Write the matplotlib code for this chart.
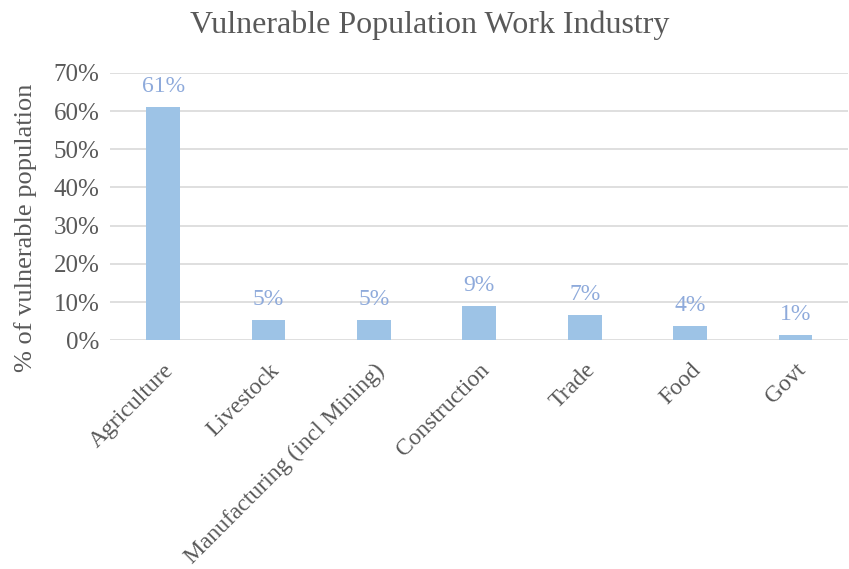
import matplotlib.pyplot as plt
from matplotlib.ticker import PercentFormatter

categories = ['Agriculture', 'Livestock', 'Manufacturing (incl Mining)',
              'Construction', 'Trade', 'Food', 'Govt']
shares = [0.61, 0.053, 0.053, 0.089, 0.066, 0.037, 0.013]
labels = ['61%', '5%', '5%', '9%', '7%', '4%', '1%']

plt.rcParams['font.family'] = ['Liberation Serif', 'DejaVu Serif']
grey = '#595959'

fig = plt.figure(figsize=(8.49, 5.69), dpi=100)
ax = fig.add_axes([0.130, 0.402, 0.869, 0.470])

x = range(len(categories))
bars = ax.bar(x, shares, width=0.32, color='#9DC3E6', zorder=3)
for b, lab in zip(bars, labels):
    ax.text(b.get_x() + b.get_width() / 2, b.get_height() + 0.027, lab,
            ha='center', va='bottom', fontsize=17, color='#8EAADB')

ax.set_ylim(0, 0.7)
ax.set_xlim(-0.5, len(categories) - 0.5)
ax.set_yticks([i / 10 for i in range(8)])
ax.yaxis.set_major_formatter(PercentFormatter(1.0, decimals=0))
ax.grid(axis='y', color='#D9D9D9', linewidth=1.2, zorder=0)
for s in ax.spines.values():
    s.set_visible(False)
ax.tick_params(length=0, labelsize=18, colors=grey)
ax.tick_params(axis='y', pad=8)
ax.tick_params(axis='x', pad=14)
ax.set_xticks(list(x))
ax.set_xticklabels(categories, rotation=45, ha='right', rotation_mode='anchor',
                   fontsize=17)
ax.set_ylabel('% of vulnerable population', fontsize=19, color=grey)
ax.yaxis.set_label_coords(-0.100, 0.42)
fig.text(0.506, 0.956, 'Vulnerable Population Work Industry', fontsize=23,
         color=grey, ha='center', va='center')

fig.savefig('out.png', dpi=100)
